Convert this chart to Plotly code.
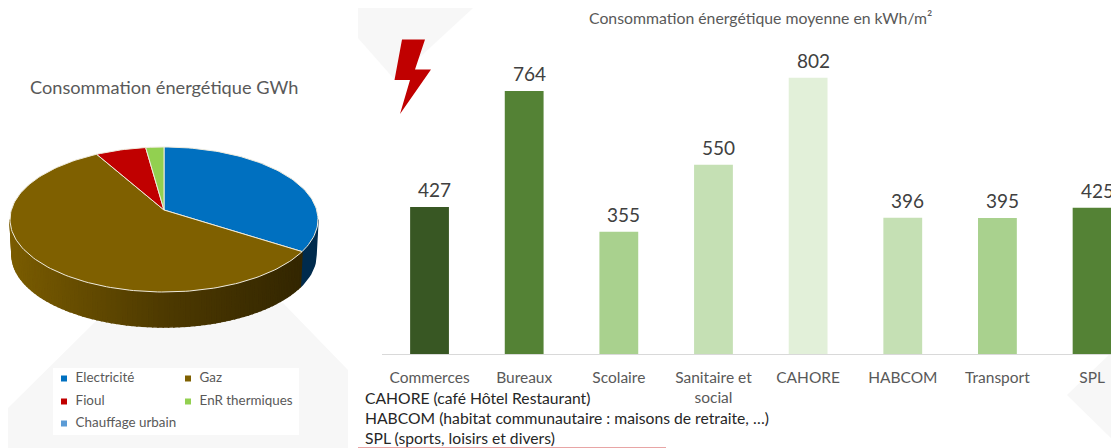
import math
import plotly.graph_objects as go

W, H = 1111, 448

# ---- data ----
bar_categories = ["Commerces", "Bureaux", "Scolaire", "Sanitaire et<br>social", "CAHORE", "HABCOM", "Transport", "SPL"]
bar_values = [427, 764, 355, 550, 802, 396, 395, 425]
bar_colors = ["#385723", "#548235", "#A9D18E", "#C5E0B4", "#E2F0D9", "#C5E0B4", "#A9D18E", "#548235"]

pie_names = ["Electricité", "Gaz", "Fioul", "EnR thermiques", "Chauffage urbain"]
pie_values = [32.3, 60.5, 5.3, 1.9, 0.0]
pie_colors = ["#0070C0", "#7F6000", "#C00000", "#92D050", "#5B9BD5"]

footnotes = ["CAHORE (café Hôtel Restaurant)",
             "HABCOM (habitat communautaire : maisons de retraite, …)",
             "SPL (sports, loisirs et divers)"]

FONT = "Lato"
fig = go.Figure()


def px(x):
    return x / W


def py(y):
    return 1 - y / H


def poly(points, color, line="rgba(0,0,0,0)", lw=0):
    return dict(type="path", xref="paper", yref="paper", layer="below",
                path="M" + "L".join(f"{px(x):.5f},{py(y):.5f}" for x, y in points) + "Z",
                fillcolor=color, line=dict(color=line, width=lw))


# ---- bars (category axis) ----
fig.add_trace(go.Bar(x=list(range(len(bar_values))), y=bar_values, width=0.41,
                     marker=dict(color=bar_colors, line=dict(width=0)),
                     showlegend=False, hoverinfo="skip"))

# ---- 3D pie on a pixel-like overlay axis ----
CX, CY, RX, RY = 164, 219.5, 154, 72.5      # top ellipse
AX, AY = 164, 210                           # apex of the top face
BX, BY, BRX, BRY = 164, 255, 152, 72        # bottom ellipse of the wall


def top_pt(a):
    t = math.radians(a)
    return CX + RX * math.sin(t), CY - RY * math.cos(t)


def bot_pt(a):
    t = math.radians(a)
    return BX + BRX * math.sin(t), BY - BRY * math.cos(t)


def add_poly(points, color, line=None, lw=0):
    xs = [p[0] for p in points] + [points[0][0]]
    ys = [p[1] for p in points] + [points[0][1]]
    fig.add_trace(go.Scatter(x=xs, y=ys, xaxis="x2", yaxis="y2", mode="lines", fill="toself",
                             fillcolor=color, line=dict(color=line or color, width=lw if line else 1.5),
                             showlegend=False, hoverinfo="skip"))


def mix(c1, c2, f):
    return "rgb(" + ",".join(str(round(a + (b - a) * f)) for a, b in zip(c1, c2)) + ")"


total = sum(pie_values)
angles = [0]
for v in pie_values:
    angles.append(angles[-1] + v / total * 360)

# wall of the first slice (visible right-hand part)
a_end = angles[1]
add_poly([top_pt(90 + (a_end - 90) * k / 12) for k in range(13)]
         + [bot_pt(a_end - (a_end - 90) * k / 12) for k in range(13)], "#002B4D")

# wall of the second slice, gradient from right (dark) to left (light)
dark, mid, light = (48, 36, 0), (78, 58, 0), (122, 92, 0)
step = 2
a = a_end
while a < 270:
    b = min(a + step, 270)
    xpos = (top_pt(a)[0] - (CX - RX)) / (2 * RX)     # 0 left .. 1 right
    col = mix(light, mid, xpos / 0.5) if xpos < 0.5 else mix(mid, dark, (xpos - 0.5) / 0.5)
    add_poly([top_pt(a), top_pt(b), bot_pt(b), bot_pt(a)], col)
    a = b

# top faces
for i, v in enumerate(pie_values):
    if v <= 0:
        continue
    a0, a1 = angles[i], angles[i + 1]
    n = max(2, int((a1 - a0) / 1.5))
    arc = [top_pt(a0 + (a1 - a0) * k / n) for k in range(n + 1)]
    add_poly([(AX, AY)] + arc, pie_colors[i], line="#EFEBDD", lw=1)

# legend, drawn with markers and real text
legend_x = [64, 188, 64, 188, 64]
legend_y = [378.5, 378.5, 401.5, 401.5, 423.5]
for name, col, lx, ly in zip(pie_names, pie_colors, legend_x, legend_y):
    fig.add_trace(go.Scatter(x=[lx], y=[ly], xaxis="x2", yaxis="y2", mode="markers+text",
                             marker=dict(symbol="square", size=6, color=col),
                             text=["  " + name], textposition="middle right",
                             textfont=dict(family=FONT, size=13.4, color="#595959"),
                             name=name, showlegend=False, hoverinfo="skip"))

# ---- decoration ----
shapes = [
    poly([(358, 8), (473, 8), (395, 80), (358, 38)], "#F7F7F7"),
    poly([(8, 408), (97, 320), (283, 303), (348, 370), (348, 448), (8, 448)], "#F7F7F7"),
    poly([(1067, 395), (1111, 353), (1111, 438)], "#F7F7F7"),
    poly([(53, 368), (299, 368), (299, 435), (53, 435)], "#FFFFFF"),
    poly([(402, 39.5), (425, 39.5), (415, 69.5), (431, 69.5), (400, 114), (410, 80), (394.5, 80)], "#C00000"),
    dict(type="line", xref="paper", yref="paper", layer="below",
         x0=px(358), x1=px(666), y0=py(447.5), y1=py(447.5), line=dict(color="#E8A5A5", width=1)),
]

# ---- text ----
annotations = []
for i, v in enumerate(bar_values):
    annotations.append(dict(x=i, y=v, xref="x", yref="y", text=str(v), showarrow=False,
                            xshift=5, yanchor="bottom", yshift=4,
                            font=dict(family=FONT, size=19, color="#404040")))
annotations.append(dict(x=px(163.5), y=py(87), xref="paper", yref="paper", text="Consommation énergétique GWh",
                        showarrow=False, xanchor="center", yanchor="middle",
                        font=dict(family=FONT, size=18.2, color="#595959")))
annotations.append(dict(x=px(760.5), y=py(18), xref="paper", yref="paper", text="Consommation énergétique moyenne en kWh/m²",
                        showarrow=False, xanchor="center", yanchor="middle",
                        font=dict(family=FONT, size=15.8, color="#595959")))
for line, y in zip(footnotes, [398, 418, 438]):
    annotations.append(dict(x=px(363), y=py(y), xref="paper", yref="paper", text=line,
                            showarrow=False, xanchor="left", yanchor="middle",
                            font=dict(family=FONT, size=15.7, color="#262626")))

BASE = 354
UNIT = 0.3443
CAT = 94.65
LEFT = 382.2
fig.update_layout(
    width=W, height=H, margin=dict(l=0, r=0, t=0, b=0),
    paper_bgcolor="#FFFFFF", plot_bgcolor="rgba(0,0,0,0)",
    bargap=0.6, showlegend=False,
    shapes=shapes, annotations=annotations,
    xaxis=dict(domain=[px(LEFT), 1], range=[-0.5, (W - LEFT) / CAT - 0.5],
               tickmode="array", tickvals=list(range(len(bar_categories))), ticktext=bar_categories,
               tickfont=dict(family=FONT, size=15.5, color="#595959"), ticks="",
               showline=True, linecolor="#D9D9D9", linewidth=1, showgrid=False, zeroline=False,
               ticklabelstandoff=9),
    yaxis=dict(domain=[(H - BASE) / H, 1], range=[0, BASE / UNIT], visible=False),
    xaxis2=dict(domain=[0, 1], range=[0, W], visible=False, anchor="y2"),
    yaxis2=dict(domain=[0, 1], range=[H, 0], visible=False, anchor="x2"),
)

fig.write_html("out.html", config={"displayModeBar": False},
               post_script="document.body.style.margin='0';document.documentElement.style.overflow='hidden';")
